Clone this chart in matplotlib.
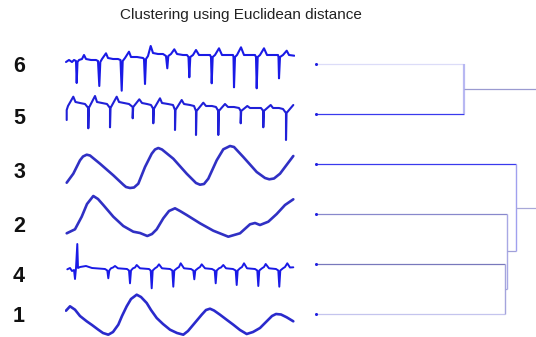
import matplotlib
matplotlib.use("Agg")
import matplotlib.pyplot as plt

# ---------------- data ----------------
title = "Clustering using Euclidean distance"
row_labels = ["6", "5", "3", "2", "4", "1"]

# series: (time, value) pairs read from the thumbnails
s6_t = [1, 4, 7, 9, 11, 11.7, 12.5, 14, 17, 19, 21, 26, 31, 33, 34.3, 35.3, 37, 41, 43, 48, 53, 55.5,
        56.7, 57.7, 60, 64, 66, 72, 78, 79, 80, 81, 83, 85.7, 88, 93, 98, 101, 102.3, 103.3, 106, 109.3,
        112, 118, 122, 123.5, 124.3, 125.3, 128, 131, 134, 140, 145, 146, 146.7, 147.7, 150, 154, 157,
        163, 168, 168.5, 169, 170, 172, 176, 179, 185, 190, 191, 191.7, 192.7, 195, 199, 202, 208, 213,
        213.5, 214, 215, 218, 221.7, 224, 229.3]
s6_v = [6, 8, 6, 8, 7, -15, 6, 8, 9, 13, 9, 8, 8, 7, -18, 6, 9, 14.7, 10, 9, 9, 8,
        -22.7, 7, 10, 16.3, 11, 11, 10, 9, -16, 9, 12, 22, 15, 14, 14, 12, -0.3, 12, 14, 18.7,
        14, 13, 13, 11, -9.3, 11, 13, 18, 13, 13, 13, 11, -15.3, 11, 13, 19.7, 13,
        13, 13, 11, -19.3, 11, 13, 20.7, 13, 13, 13, 11, -20.3, 11, 13, 19.7, 13, 13, 13,
        11, -10.3, 11, 13, 17.3, 13, 12.3]

s5_t = [1.7, 1.7, 3, 8.3, 10.5, 15, 20, 23.3, 23.3, 23.8, 30, 32, 37, 42, 45, 45, 45.5, 51.7, 54, 59, 64,
        67.7, 67.7, 68.2, 74.3, 77, 82, 86, 88.3, 88.3, 88.8, 95, 97, 103, 108, 110, 110, 110.5, 116.7,
        119, 125, 129, 131, 131, 131.5, 138.3, 141, 147, 151, 153.3, 153.3, 153.8, 160, 163, 169, 174,
        175.7, 175.7, 176.2, 182.3, 185, 190, 196, 198.3, 198.3, 198.8, 205.7, 208, 214, 218, 221, 221,
        221.5, 228.3]
s5_v = [-2, 8, 12, 21.3, 16, 15, 14, 10, -10.3, 10, 22, 16, 15, 14, 10, -9.3, 10, 21.3, 16, 15, 14,
        11, -0.3, 11, 18.7, 15, 14, 13, 9, -5.3, 9, 19.7, 15, 14, 13, 8, -12, 8, 18,
        14, 13, 12, 7, -17, 7, 15.3, 12, 12, 11, 7, -17, 7, 14, 11, 11, 10,
        7, -5.3, 7, 12, 10, 10, 10, 7, -9.3, 7, 13, 10, 10, 9, 5, -22,
        5, 13]

s3_t = [1.7, 8.3, 15, 18, 21.7, 25, 35, 48.3, 58.3, 61, 65, 69, 73.3, 80, 86.7, 90, 93.3, 97, 108.3,
        121.7, 131, 135, 139, 143.3, 151.7, 158.3, 162, 165, 169, 178.3, 191.7, 200, 204.3, 209, 215,
        228.3]
s3_v = [-15.7, -6.7, 6.7, 10.5, 12.3, 11.5, 3.3, -8.3, -17.7, -20, -21, -20.5, -16.7, 0, 13.3, 17.5,
        19, 17.5, 8.3, -6.7, -16, -17.7, -17, -11.7, 6.7, 17.7, 19.5, 21, 20, 10, -5, -11, -12.3,
        -11.5, -6.7, 11]

s2_t = [1.7, 10, 16.7, 22, 28.3, 33, 38.3, 48.3, 58.3, 68.3, 75, 82.3, 87, 91.7, 98.3, 104, 110, 115,
        121.7, 135, 148.3, 163.3, 175, 185, 190, 195, 203.3, 211.7, 220, 228.3]
s2_v = [-17.3, -13.3, -0.7, 12, 20, 17, 11, -0.7, -10, -15.7, -17, -20, -18, -13.3, -2.3, 5, 7.7, 5,
        1, -7.3, -14.7, -20.7, -17.3, -8.3, -7, -9, -5.7, 2, 11, 16.7]

s4_t = [2.3, 5, 7, 9, 10, 11, 12.3, 13, 15, 21, 27, 40, 42.3, 43.3, 44.3, 46, 48, 50, 53, 62, 64, 65, 66,
        68, 70, 71.7, 75, 84, 85.7, 86.7, 87.7, 90, 92, 94, 97, 105, 107.3, 108.3, 109.3, 112, 114, 115.7,
        119, 126, 128.3, 129.3, 130.3, 133, 135, 136.7, 140, 147, 149.7, 150.7, 151.7, 154, 156, 158.3,
        161, 168, 170.7, 171.7, 172.7, 175, 177, 179, 182, 190, 192.3, 193.3, 194.3, 197, 199, 200.7,
        204, 211, 213.3, 214.3, 215.3, 218, 220, 222.3, 225, 228.3]
s4_v = [-3.3, -2, -5, -4, -13, -2, 22, -2, -1, 0, -2, -3, -4.5, -12.3, -4.5, -2.3, -1.5, 0, -2.3, -3,
        -4.5, -17.3, -4.5, -2.3, -1.5, 1, -2.3, -3, -4.5, -22.3, -4.5, -2.3, -1, 1.7, -2.3, -3, -4.5,
        -20.7, -4.5, -2.3, -1, 2.7, -2.3, -3, -4.5, -13.3, -4.5, -2.3, -1, 1.7, -2.3, -3, -4.5, -17.3,
        -4.5, -2.3, -1.5, 1, -2.3, -3, -4.5, -19, -4.5, -2.3, -1, 2.7, -2.3, -3, -4.5, -20, -4.5, -2.3,
        -1, 2, -2.3, -3, -4.5, -20.7, -4.5, -2.3, -1, 2.7, -1.5, -1.3]

s1_t = [1, 5, 10, 15, 21.7, 27, 33.3, 38, 43.3, 48, 53.3, 57, 61.7, 66, 71.7, 76, 81.7, 86, 91.7, 98,
        105, 112, 118.3, 123, 128.3, 136.7, 141, 145, 149, 155, 162, 168.3, 175, 181.7, 188, 195,
        203.3, 207, 211, 216, 221.7, 228.3]
s1_v = [3.3, 7.7, 4.3, -2, -7.3, -11, -15.7, -19, -20.7, -18, -10.7, -2, 7.7, 15, 19.3, 17, 11, 4, -4,
        -10, -15.7, -19, -20.7, -17, -10.7, -0.7, 4, 5.3, 3.5, -0.7, -6, -10.7, -16, -20, -18, -14,
        -5.7, -2, 0, -0.5, -3.3, -7.3]

series_t = [s6_t, s5_t, s3_t, s2_t, s4_t, s1_t]
series_v = [s6_v, s5_v, s3_v, s2_v, s4_v, s1_v]

# dendrogram: leaves in display order, merges (child_a, child_b, height)
leaf_labels = ["6", "5", "3", "2", "4", "1"]
merges = [(0, 1, 147.5), (4, 5, 189.0), (3, 7, 190.7), (2, 8, 199.7), (6, 9, 260.0)]

# ---------------- style ----------------
W, H = 536, 337
fig = plt.figure(figsize=(W / 100, H / 100), dpi=100)
fig.patch.set_facecolor("white")

def fx(px):
    return px / W

def fy(py):
    return 1 - py / H

fig.text(fx(241), fy(15.5), title, ha="center", va="center", fontsize=11,
         family="Liberation Sans", color="#222222")

label_y = [66, 119, 173, 226, 277, 317]
for lab, ly in zip(row_labels, label_y):
    fig.text(fx(19), fy(ly), lab, ha="center", va="center", fontsize=15.5,
             fontweight="bold", family="Liberation Sans", color="#111111")

row_centers = [68, 118, 167, 216, 266, 314]
row_colors = ["#1a1ae6", "#2020d8", "#3030c4", "#3030c4", "#1a1ae6", "#2a2acc"]
row_lw = [1.5, 1.5, 1.9, 1.9, 1.4, 1.9]
for t, v, yc, col, lw in zip(series_t, series_v, row_centers, row_colors, row_lw):
    ax = fig.add_axes([fx(65), fy(yc + 25), fx(230), 50 / H])
    ax.plot(t, v, color=col, lw=lw, solid_joinstyle="round", solid_capstyle="round")
    ax.set_xlim(0, 230)
    ax.set_ylim(-25, 25)
    ax.axis("off")

# dendrogram axes
leaf_top, leaf_step = 64.3, 49.9
d_top = leaf_top - 0.5 * leaf_step
d_h = 5.8 * leaf_step
dax = fig.add_axes([fx(316), fy(d_top + d_h), fx(220), d_h / H])
dax.set_xlim(0, 220)
dax.set_ylim(5.3, -0.5)
dax.axis("off")

leaf_line_colors = ["#dcdcf8", "#3a3aee", "#3a3aee", "#8888cc", "#7878bc", "#c4c4ee"]
node_line_colors = {6: "#9a9ad0", 7: "#a0a0dc", 8: "#a0a0d8", 9: "#a8a8d8"}
vert_colors = ["#b8b8f2", "#a4a4dc", "#a8a8e4", "#a0a0ee", "#a0a0d0"]
vert_lw = [1.6, 1.0, 1.0, 1.0, 1.0]

pos = {i: (float(i), 0.0) for i in range(len(leaf_labels))}
for k, (a, b, h) in enumerate(merges):
    node = len(leaf_labels) + k
    for c in (a, b):
        cy, ch = pos[c]
        col = leaf_line_colors[c] if c < len(leaf_labels) else node_line_colors[c]
        dax.plot([ch, h], [cy, cy], color=col, lw=0.9, solid_capstyle="butt")
    ya, yb = pos[a][0], pos[b][0]
    dax.plot([h, h], [ya, yb], color=vert_colors[k], lw=vert_lw[k], solid_capstyle="butt")
    pos[node] = ((ya + yb) / 2, h)

dax.plot([0] * len(leaf_labels), range(len(leaf_labels)), "o", color="#2020e0",
         markersize=2.2, markeredgewidth=0, clip_on=False)

fig.savefig("out.png", dpi=100, facecolor="white")
